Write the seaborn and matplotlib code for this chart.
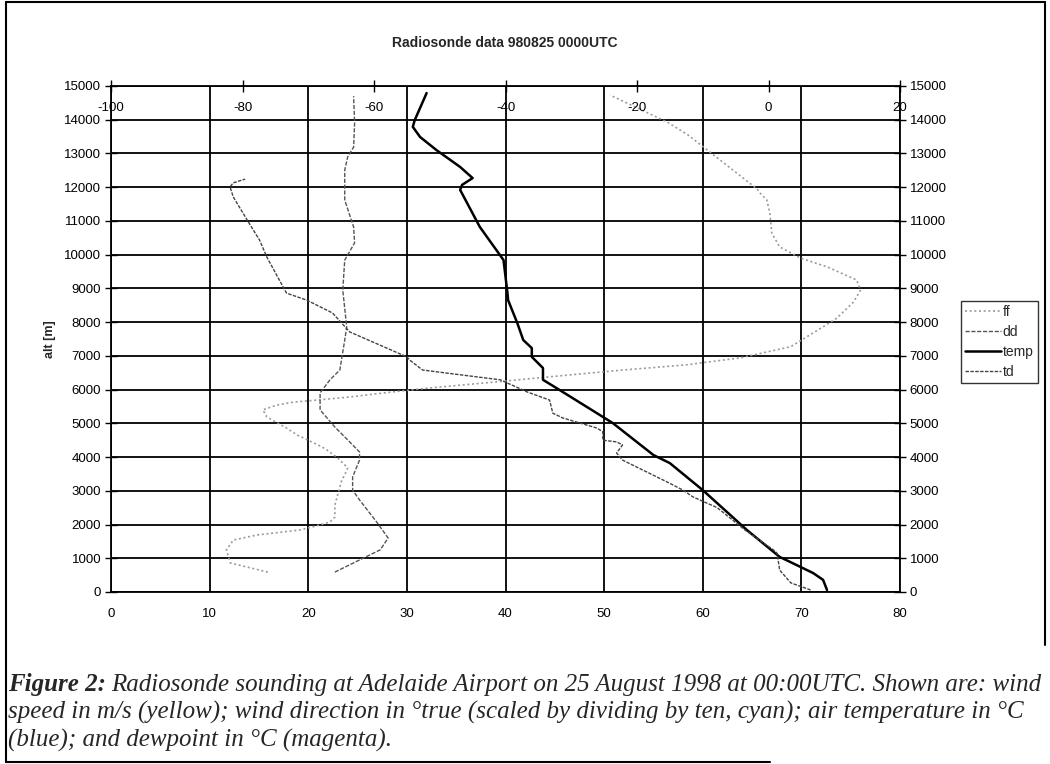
import pandas as pd
import seaborn as sns
import matplotlib.pyplot as plt
from matplotlib.lines import Line2D

# wind speed ff [m/s] and wind direction dd [deg/10], bottom axis
ff_alt = [590, 860, 1245, 1540, 1690, 1840, 1990, 2075, 2220, 2580, 3320, 3470, 3680,
          3970, 4210, 4300, 4570, 4650, 4860, 5190, 5400, 5540, 5630, 5690, 5780, 5900,
          6040, 6230, 6380, 6580, 6730, 6940, 7270, 7860, 8120, 8600, 8950, 9250, 9640,
          9900, 10230, 10640, 11230, 11620, 11830, 11950, 13550, 13930, 14730]
ff = [15.9, 12.1, 11.7, 12.4, 14.8, 19.2, 21.2, 22.2, 22.7, 22.7, 23.4, 23.7, 24.0,
      23.0, 21.9, 21.4, 19.5, 18.9, 17.8, 15.8, 15.4, 16.8, 18.5, 20.9, 24.2, 27.6,
      32.0, 39.1, 44.5, 51.9, 58.2, 63.8, 68.9, 72.2, 73.6, 75.3, 76.0, 75.6, 72.6,
      69.9, 67.8, 67.0, 66.8, 66.5, 65.8, 65.5, 58.5, 56.4, 50.6]

dd_alt = [590, 950, 1250, 1600, 2050, 2730, 3020, 3410, 3910, 4150, 4450, 4890, 5160,
          5400, 5900, 6290, 6580, 7470, 7860, 8950, 9840, 10350, 10820, 11620, 12510,
          12900, 13190, 13900, 14700]
dd = [22.7, 25.2, 27.3, 28.1, 27.0, 25.2, 24.5, 24.5, 25.2, 25.2, 24.2, 22.7, 21.9,
      21.2, 21.2, 22.2, 23.2, 23.7, 23.9, 23.5, 23.7, 24.7, 24.6, 23.7, 23.7,
      24.0, 24.6, 24.7, 24.6]

# air temperature and dewpoint [degC], top axis
temp_alt = [60, 360, 560, 740, 1040, 1840, 3020, 3820, 4060, 5010, 6040, 6290, 6640,
            6970, 7230, 7470, 7970, 8650, 8860, 9840, 10140, 10820, 11920, 12070, 12270,
            12600, 13100, 13490, 13790, 13990, 14790]
temp = [8.9, 8.3, 6.8, 4.9, 1.7, -3.3, -10.0, -15.0, -17.5, -23.7, -32.2, -34.3, -34.3,
        -36.0, -36.0, -37.3, -38.2, -39.6, -39.7, -40.3, -41.4, -43.9, -46.9, -46.6, -45.0,
        -46.9, -50.5, -53.0, -54.1, -53.8, -52.0]

td_alt = [60, 270, 650, 1150, 1240, 1840, 2500, 2820, 3020, 3260, 3910, 4120, 4360,
          4450, 4500, 4750, 4860, 5160, 5300, 5690, 5930, 6290, 6430, 6580, 6880, 6970,
          7710, 8270, 8650, 8860, 9250, 9930, 10430, 11030, 11710, 12010, 12130, 12240]
td = [6.4, 3.4, 1.7, 1.3, 0.8, -3.6, -7.8, -11.5, -13.0, -15.4, -22.2, -23.1, -22.2,
      -23.1, -25.2, -25.2, -26.1, -31.3, -32.8, -33.3, -36.7, -40.8, -46.5, -52.6, -54.6, -55.0,
      -63.7, -66.3, -70.2, -73.3, -74.4, -76.3, -77.4, -79.3, -81.4, -81.9, -81.4, -79.6]

alt_ticks = list(range(0, 15001, 1000))
bottom_ticks = list(range(0, 81, 10))
top_ticks = list(range(-100, 21, 20))

sns.set_style("white")
plt.rcParams["font.family"] = ["Liberation Sans", "DejaVu Sans"]
plt.rcParams["axes.unicode_minus"] = False

W, H = 1050, 764
fig = plt.figure(figsize=(W / 100, H / 100), dpi=100)
ax = fig.add_axes([111 / W, 1 - 592 / H, 789 / W, 506 / H])
ax2 = ax.twiny()

wind = pd.DataFrame({"alt": ff_alt, "val": ff})
wdir = pd.DataFrame({"alt": dd_alt, "val": dd})
tdf = pd.DataFrame({"alt": temp_alt, "val": temp})
ddf = pd.DataFrame({"alt": td_alt, "val": td})

kw = dict(x="val", y="alt", sort=False, orient="y", estimator=None, legend=False)
sns.lineplot(data=wind, ax=ax, color="#9a9a9a", lw=1.2,
             linestyle=(0, (1.2, 1.6)), label="ff", **kw)
sns.lineplot(data=wdir, ax=ax, color="#555555", lw=1.0,
             linestyle=(0, (3, 1.2)), label="dd", **kw)
sns.lineplot(data=tdf, ax=ax2, color="black", lw=1.8, label="temp", **kw)
sns.lineplot(data=ddf, ax=ax2, color="#444444", lw=1.0,
             linestyle=(0, (2.5, 1)), label="td", **kw)

ax.set_xlim(0, 80)
ax.set_ylim(0, 15000)
ax2.set_xlim(-100, 20)
ax.set_xticks(bottom_ticks)
ax.set_yticks(alt_ticks)
ax2.set_xticks(top_ticks)
ax.grid(True, color="black", lw=1.3)
ax.set_xlabel("")
ax2.set_xlabel("")
ax.set_ylabel("alt [m]", fontsize=9, fontweight="bold", labelpad=6)

for s in ax.spines.values():
    s.set_color("black")
    s.set_linewidth(1.3)
for s in ax2.spines.values():
    s.set_visible(False)

ax.tick_params(axis="y", left=True, right=True, labelright=True, direction="inout",
               length=8, width=1, colors="black", labelsize=9.5, pad=3)
ax.tick_params(axis="x", bottom=False, labelsize=9.5, pad=8, colors="black")
ax2.tick_params(axis="x", top=True, direction="inout", length=8, width=1,
                labelsize=9.5, pad=-24, colors="black")

fig.text(505 / W, 1 - 43 / H, "Radiosonde data 980825 0000UTC", ha="center",
         va="center", fontsize=10, fontweight="bold")

h1, l1 = ax.get_legend_handles_labels()
h2, l2 = ax2.get_legend_handles_labels()
leg = fig.legend(h1 + h2, l1 + l2, loc="upper left", bbox_to_anchor=(961 / W, 1 - 301 / H),
                 frameon=True, fancybox=False, fontsize=10, handlelength=2.6,
                 handletextpad=0.1, borderpad=0.3, labelspacing=0.42, borderaxespad=0)
leg.get_frame().set_edgecolor("black")
leg.get_frame().set_linewidth(1)

# page frame
for xs, ys in [([6, 6], [2, 762]), ([6, 1045], [2, 2]), ([1045, 1045], [2, 645]),
               ([6, 770], [762, 762])]:
    fig.add_artist(Line2D([x / W for x in xs], [1 - y / H for y in ys], color="black",
                          lw=1.5, transform=fig.transFigure))

# caption
serif = ["Liberation Serif", "DejaVu Serif"]
fig.canvas.draw()
r = fig.canvas.get_renderer()
cap_fs = 18
t0 = fig.text(8 / W, 1 - 685 / H, "Figure 2:", fontsize=cap_fs, family=serif,
              style="italic", fontweight="bold", va="center")
bb = t0.get_window_extent(r)
fig.text(bb.x1 / W + 5 / W, 1 - 685 / H,
         "Radiosonde sounding at Adelaide Airport on 25 August 1998 at 00:00UTC. Shown are: wind",
         fontsize=cap_fs, family=serif, style="italic", va="center")
fig.text(8 / W, 1 - 712 / H,
         "speed in m/s (yellow); wind direction in \u00b0true (scaled by dividing by ten, cyan); air temperature in \u00b0C",
         fontsize=cap_fs, family=serif, style="italic", va="center")
fig.text(8 / W, 1 - 740 / H, "(blue); and dewpoint in \u00b0C (magenta).",
         fontsize=cap_fs, family=serif, style="italic", va="center")

fig.savefig("out.png", dpi=100)
